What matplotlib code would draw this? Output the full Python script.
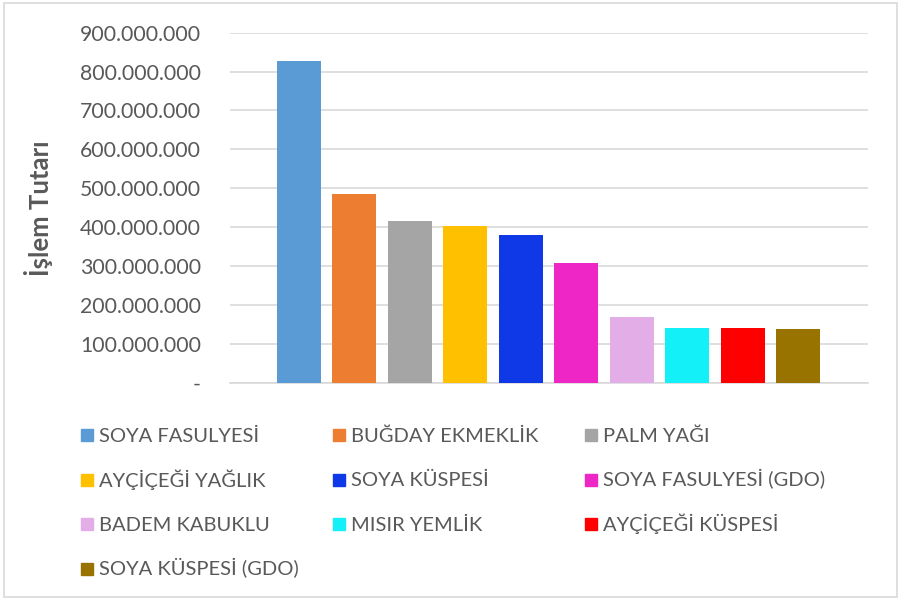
import matplotlib.pyplot as plt
from matplotlib.patches import Rectangle
from matplotlib.ticker import FuncFormatter, MultipleLocator

urunler = ['SOYA FASULYESİ', 'BUĞDAY EKMEKLİK', 'PALM YAĞI',
           'AYÇİÇEĞİ YAĞLIK', 'SOYA KÜSPESİ', 'SOYA FASULYESİ (GDO)',
           'BADEM KABUKLU', 'MISIR YEMLİK', 'AYÇİÇEĞİ KÜSPESİ',
           'SOYA KÜSPESİ (GDO)']
tutarlar = [827e6, 485e6, 416e6, 403e6, 380e6, 308e6, 169e6, 141e6, 141e6, 138e6]
renkler = ['#5B9BD5', '#ED7D31', '#A5A5A5', '#FFC000', '#0F38E6', '#EE26C6',
           '#E3AEE7', '#14F0F7', '#FF0000', '#997300']

W, H = 903, 600
txt = '#595959'
plt.rcParams['font.family'] = ['Lato', 'DejaVu Sans']

fig = plt.figure(figsize=(W / 100, H / 100), dpi=100)
ax = fig.add_axes([230 / W, 1 - 382.7 / H, (867.5 - 230) / W, 350 / H])

for i, (v, c) in enumerate(zip(tutarlar, renkler)):
    ax.bar(i, v, width=0.794, color=c, zorder=3)

ax.set_xlim(-1.245, 10.254)
ax.set_ylim(0, 900e6)
ax.yaxis.set_major_locator(MultipleLocator(100e6))


def nokta_format(v, pos):
    if v == 0:
        return '-'
    return f'{v:,.0f}'.replace(',', '.')


ax.yaxis.set_major_formatter(FuncFormatter(nokta_format))
ax.tick_params(axis='y', length=0, pad=21, labelsize=15.3, labelcolor=txt)
ax.set_xticks([])
ax.grid(axis='y', color='#d9d9d9', linewidth=1.2, zorder=0)
for s in ['top', 'right', 'left']:
    ax.spines[s].set_visible(False)
ax.spines['bottom'].set_color('#d9d9d9')
ax.spines['bottom'].set_linewidth(1.2)

ax.set_ylabel('İşlem Tutarı', fontsize=18.5, fontweight='bold', color=txt)
ax.yaxis.label.set_va('center')
ax.yaxis.set_label_coords((39 - 230) / (867.5 - 230), 0.5)

# legend laid out in three even columns
kol_x = [81, 333, 585]
satir_taban = [442, 486.5, 531, 575.5]
kare = 12
for i, (ad, c) in enumerate(zip(urunler, renkler)):
    x = kol_x[i % 3]
    y = satir_taban[i // 3]
    fig.patches.append(Rectangle((x / W, 1 - (y - 1) / H), kare / W, kare / H,
                                 transform=fig.transFigure, color=c))
    fig.text((x + 18) / W, 1 - y / H, ad, fontsize=14.5, color=txt,
             ha='left', va='baseline')

# outer chart border
fig.patches.append(Rectangle((4.5 / W, 3 / H), 892.5 / W, 594 / H, transform=fig.transFigure,
                             fill=False, edgecolor='#d9d9d9', linewidth=1.2))

fig.savefig('out.png', dpi=100)
